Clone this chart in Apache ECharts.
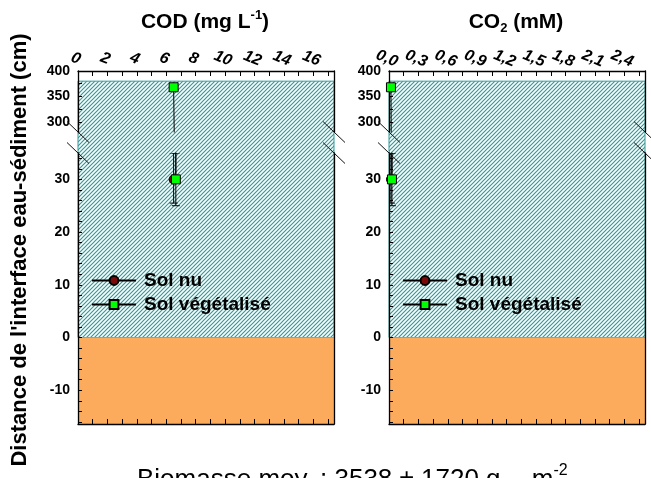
<!DOCTYPE html>
<html>
<head>
<meta charset="utf-8">
<script src="https://cdn.jsdelivr.net/npm/echarts@6/dist/echarts.min.js"></script>
<style>
html,body{margin:0;padding:0;background:#fff}
#main{width:651px;height:478px}
</style>
</head>
<body>
<div id="main"></div>
<script>
// profondeurs (cm, distance à l'interface)
var depthVeg = [30, 368];
var depthNu = [30];
// COD (mg/L)
var codVeg = [6.65, 6.5];
var codNu = [6.5];
// CO2 (mM)
var co2Veg = [0.03, 0.02];
var co2Nu = [0.02];
// barres d'erreur (min / max de profondeur)
var vegLow = [25, 368], vegHigh = [35, 368];
var nuLow = [25.5], nuHigh = [35];

// graduations
var codLabels = [0, 2, 4, 6, 8, 10, 12, 14, 16];
var codTicks = [0, 1, 2, 3, 4, 5, 6, 7, 8, 9, 10, 11, 12, 13, 14, 15, 16, 17];
var co2Labels = [0, 0.3, 0.6, 0.9, 1.2, 1.5, 1.8, 2.1, 2.4];
var co2Ticks = [0, 0.15, 0.3, 0.45, 0.6, 0.75, 0.9, 1.05, 1.2, 1.35, 1.5, 1.65, 1.8, 1.95, 2.1, 2.25, 2.4, 2.55];
var upLabels = [300, 350, 400];
var upTicks = [300, 325, 350, 375, 400];
var lowLabels = [-10, 0, 10, 20, 30];
var lowTicks = [-16, -14, -12, -10, -8, -6, -4, -2, 0, 2, 4, 6, 8, 10, 12, 14, 16, 18, 20, 22, 24, 26, 28, 30, 32, 34];

var FONT = '"Liberation Sans", Arial, sans-serif';
var waterTop = 380;   // surface de l'eau
var upMin = 280, upMax = 400;
var lowMin = -16.4, lowMax = 35;

var chart = echarts.init(document.getElementById('main'));

// motif hachuré
var pat = document.createElement('canvas');
pat.width = 4; pat.height = 4;
var ctx = pat.getContext('2d');
ctx.fillStyle = '#ffffff';
ctx.fillRect(0, 0, 4, 4);
ctx.strokeStyle = '#339a9a';
ctx.lineWidth = 1.2;
ctx.beginPath();
ctx.moveTo(0, 4); ctx.lineTo(4, 0);
ctx.moveTo(-1, 1); ctx.lineTo(1, -1);
ctx.moveTo(3, 5); ctx.lineTo(5, 3);
ctx.stroke();

var panels = [
  {left: 78, max: 17.4, labels: codLabels, ticks: codTicks, veg: codVeg, nu: codNu,
   fmt: function (v) { return String(v); }},
  {left: 389, max: 2.61, labels: co2Labels, ticks: co2Ticks, veg: co2Veg, nu: co2Nu,
   fmt: function (v) { return v.toFixed(1).replace('.', ','); }}
];

var grids = [], xAxes = [], yAxes = [], series = [];
var lineCol = '#000';

function renderErr(params, api) {
  var x = api.value(0), lo = api.value(2), hi = api.value(3);
  if (lo === hi) return;
  var p1 = api.coord([x, lo]), p2 = api.coord([x, hi]);
  var w = 4;
  var st = {stroke: '#000', lineWidth: 1};
  return {type: 'group', children: [
    {type: 'line', shape: {x1: p1[0], y1: p1[1], x2: p2[0], y2: p2[1]}, style: st},
    {type: 'line', shape: {x1: p1[0] - w, y1: p1[1], x2: p1[0] + w, y2: p1[1]}, style: st},
    {type: 'line', shape: {x1: p2[0] - w, y1: p2[1], x2: p2[0] + w, y2: p2[1]}, style: st}
  ]};
}

panels.forEach(function (p, pi) {
  for (var k = 0; k < 2; k++) {
    var g = pi * 2 + k;
    var upper = k === 0;
    grids.push(upper
      ? {left: p.left, top: 71, width: 256, height: 61}
      : {left: p.left, top: 153, width: 256, height: 271});
    xAxes.push({
      gridIndex: g, type: 'value', position: upper ? 'top' : 'bottom',
      min: 0, max: p.max,
      axisLine: {show: true, onZero: false, lineStyle: {color: lineCol, width: 1.3}},
      axisTick: {show: true, inside: true, length: 5, customValues: p.ticks, lineStyle: {color: lineCol}},
      axisLabel: {show: upper, customValues: p.labels, formatter: p.fmt, rotate: 22,
        align: 'center', verticalAlign: 'bottom', padding: [0, 11, 0, 0],
        fontFamily: FONT, fontStyle: 'italic', fontWeight: 'bold', fontSize: 16, color: '#000', margin: 3},
      splitLine: {show: false}
    });
    var ymin = upper ? upMin : lowMin, ymax = upper ? upMax : lowMax;
    yAxes.push({
      gridIndex: g, type: 'value', position: 'left', min: ymin, max: ymax,
      axisLine: {show: true, onZero: false, lineStyle: {color: lineCol, width: 1.3}},
      axisTick: {show: true, inside: true, length: 4, customValues: upper ? upTicks : lowTicks, lineStyle: {color: lineCol}},
      axisLabel: {customValues: upper ? upLabels : lowLabels, fontFamily: FONT, fontWeight: 'bold',
        fontSize: 14, color: '#000', margin: 8},
      splitLine: {show: false}
    });
    yAxes.push({
      gridIndex: g, type: 'value', position: 'right', min: ymin, max: ymax,
      axisLine: {show: true, onZero: false, lineStyle: {color: lineCol, width: 1.3}},
      axisTick: {show: false}, axisLabel: {show: false}, splitLine: {show: false}
    });

    series.push({
      name: 'Sol nu', type: 'line', xAxisIndex: g, yAxisIndex: g * 2, z: 3,
      data: p.nu.map(function (x, i) { return [x, depthNu[i]]; }),
      symbol: 'circle', symbolSize: 9,
      itemStyle: {color: '#7a0a0a', borderColor: '#000', borderWidth: 1},
      lineStyle: {color: '#000', width: 1}
    });
    series.push({
      name: 'Sol végétalisé', type: 'line', xAxisIndex: g, yAxisIndex: g * 2, z: 4,
      data: p.veg.map(function (x, i) { return [x, depthVeg[i]]; }),
      symbol: 'rect', symbolSize: 9,
      itemStyle: {color: '#00ff00', borderColor: '#000', borderWidth: 1},
      lineStyle: {color: '#000', width: 1}
    });
    series.push({
      name: 'errNu', type: 'custom', xAxisIndex: g, yAxisIndex: g * 2, z: 2, clip: true,
      renderItem: renderErr, encode: {x: 0, y: 1},
      data: p.nu.map(function (x, i) { return [x, depthNu[i], nuLow[i], nuHigh[i]]; })
    });
    series.push({
      name: 'errVeg', type: 'custom', xAxisIndex: g, yAxisIndex: g * 2, z: 2, clip: true,
      renderItem: renderErr, encode: {x: 0, y: 1},
      data: p.veg.map(function (x, i) { return [x, depthVeg[i], vegLow[i], vegHigh[i]]; })
    });
  }
});

function legendAt(left) {
  return {
    data: ['Sol nu', 'Sol végétalisé'], orient: 'vertical', left: left, top: 266,
    itemWidth: 44, itemHeight: 11, itemGap: 5,
    textStyle: {fontFamily: FONT, fontWeight: 'bold', fontSize: 19, color: '#000', padding: [0, 0, 0, 3]}
  };
}

var option = {
  animation: false,
  backgroundColor: '#fff',
  grid: grids,
  xAxis: xAxes,
  yAxis: yAxes,
  legend: [legendAt(86), legendAt(397)],
  series: series
};
chart.setOption(option);

// fonds (eau hachurée, sédiment orange) et marques de coupure
var gfx = [];
panels.forEach(function (p, pi) {
  var gu = pi * 2, gl = pi * 2 + 1;
  var top = chart.convertToPixel({gridIndex: gu}, [0, waterTop]);
  var right = chart.convertToPixel({gridIndex: gu}, [p.max, upMin]);
  var zero = chart.convertToPixel({gridIndex: gl}, [0, 0]);
  var bot = chart.convertToPixel({gridIndex: gl}, [p.max, lowMin]);
  var lowTop = chart.convertToPixel({gridIndex: gl}, [0, lowMax]);
  gfx.push({type: 'rect', z: -10, shape: {x: top[0], y: top[1], width: right[0] - top[0], height: zero[1] - top[1]},
    style: {fill: {image: pat, repeat: 'repeat'}, stroke: '#339a9a', lineWidth: 1}});
  gfx.push({type: 'rect', z: -10, shape: {x: zero[0], y: zero[1], width: bot[0] - zero[0], height: bot[1] - zero[1]},
    style: {fill: '#fcaa5c'}});
  [top[0], right[0]].forEach(function (ax) {
    [right[1], lowTop[1]].forEach(function (by) {
      gfx.push({type: 'line', z: 10, shape: {x1: ax - 11, y1: by - 10.5, x2: ax + 11, y2: by + 10.5},
        style: {stroke: '#111', lineWidth: 1}});
    });
  });
});

// textes
gfx.push({type: 'text', z: 10, x: 205, y: 22, style: {
  text: '{a|COD (mg L}{s|-1}{a|)}', align: 'center', verticalAlign: 'middle',
  rich: {a: {fontFamily: FONT, fontWeight: 'bold', fontSize: 21, color: '#000', lineHeight: 26},
         s: {fontFamily: FONT, fontWeight: 'bold', fontSize: 13, color: '#000', verticalAlign: 'top', lineHeight: 26}}
}});
gfx.push({type: 'text', z: 10, x: 516, y: 22, style: {
  text: '{a|CO}{s|2}{a| (mM)}', align: 'center', verticalAlign: 'middle',
  rich: {a: {fontFamily: FONT, fontWeight: 'bold', fontSize: 21, color: '#000', lineHeight: 26},
         s: {fontFamily: FONT, fontWeight: 'bold', fontSize: 13, color: '#000', verticalAlign: 'bottom', lineHeight: 26}}
}});
gfx.push({type: 'text', z: 10, x: 20, y: 250, rotation: Math.PI / 2, style: {
  text: "Distance de l'interface eau-sédiment (cm)", align: 'center', verticalAlign: 'middle',
  fontFamily: FONT, fontWeight: 'bold', fontSize: 22, fill: '#000'
}});
gfx.push({type: 'text', z: 10, x: 137, y: 463, style: {
  text: '{a|Biomasse moy. : 3538 ± 1720 g}{b|MS}{a| m}{s|-2}', align: 'left', verticalAlign: 'top',
  rich: {a: {fontFamily: FONT, fontSize: 26, color: '#000', lineHeight: 30},
         b: {fontFamily: FONT, fontSize: 16, color: '#000', verticalAlign: 'bottom', lineHeight: 34},
         s: {fontFamily: FONT, fontSize: 16, color: '#000', verticalAlign: 'top', lineHeight: 30}}
}});

chart.setOption({graphic: gfx});
window.addEventListener('resize', function () { chart.resize(); });
</script>
</body>
</html>
